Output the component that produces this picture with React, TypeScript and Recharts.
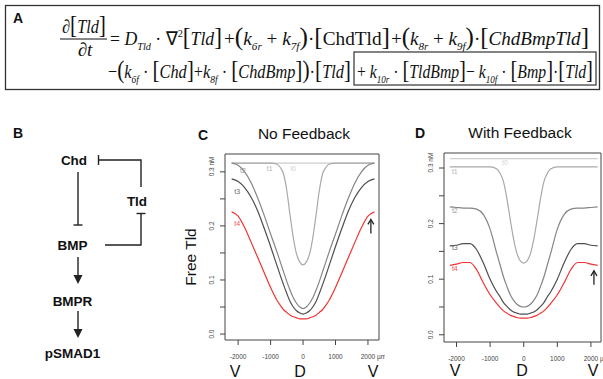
import React from 'react';
import { LineChart, Line, XAxis, YAxis, ReferenceArea, ReferenceLine, ReferenceDot } from 'recharts';

// ---------- data ----------
const xPos = [-2200, -2000, -1800, -1600, -1400, -1200, -1000, -800, -700, -600, -500, -400, -300, -200, -100, 0,
  100, 200, 300, 400, 500, 600, 700, 800, 1000, 1200, 1400, 1600, 1800, 2000, 2200];

// Panel C: No Feedback
const noFbT0 = [0.316, 0.316, 0.316, 0.316, 0.316, 0.316, 0.316, 0.316, 0.316, 0.316, 0.316, 0.316, 0.316, 0.316, 0.316, 0.316,
  0.316, 0.316, 0.316, 0.316, 0.316, 0.316, 0.316, 0.316, 0.316, 0.316, 0.316, 0.316, 0.316, 0.316, 0.316];
const noFbT1 = [0.316, 0.316, 0.316, 0.316, 0.316, 0.316, 0.316, 0.314, 0.308, 0.296, 0.265, 0.220, 0.178, 0.148, 0.133, 0.128,
  0.133, 0.148, 0.178, 0.220, 0.265, 0.296, 0.308, 0.314, 0.316, 0.316, 0.316, 0.316, 0.316, 0.316, 0.316];
const noFbT2 = [0.316, 0.312, 0.300, 0.280, 0.252, 0.220, 0.185, 0.151, 0.133, 0.115, 0.097, 0.081, 0.067, 0.057, 0.050, 0.047,
  0.050, 0.057, 0.067, 0.081, 0.097, 0.115, 0.133, 0.151, 0.185, 0.220, 0.252, 0.280, 0.300, 0.312, 0.316];
const noFbT3 = [0.287, 0.282, 0.271, 0.253, 0.228, 0.196, 0.162, 0.126, 0.108, 0.091, 0.075, 0.060, 0.050, 0.043, 0.039, 0.037,
  0.039, 0.043, 0.050, 0.060, 0.075, 0.091, 0.108, 0.126, 0.162, 0.196, 0.228, 0.253, 0.271, 0.282, 0.287];
const noFbT4 = [0.226, 0.218, 0.197, 0.170, 0.142, 0.114, 0.086, 0.062, 0.053, 0.045, 0.040, 0.035, 0.032, 0.030, 0.028, 0.028,
  0.028, 0.030, 0.032, 0.035, 0.040, 0.045, 0.053, 0.062, 0.086, 0.114, 0.142, 0.170, 0.197, 0.218, 0.226];

// Panel D: With Feedback
const fbT0 = [0.317, 0.317, 0.317, 0.317, 0.317, 0.317, 0.317, 0.317, 0.317, 0.317, 0.317, 0.317, 0.317, 0.317, 0.317, 0.317,
  0.317, 0.317, 0.317, 0.317, 0.317, 0.317, 0.317, 0.317, 0.317, 0.317, 0.317, 0.317, 0.317, 0.317, 0.317];
const fbT1 = [0.302, 0.302, 0.302, 0.302, 0.302, 0.302, 0.302, 0.298, 0.290, 0.275, 0.245, 0.207, 0.172, 0.146, 0.133, 0.129,
  0.133, 0.146, 0.172, 0.207, 0.245, 0.275, 0.290, 0.298, 0.302, 0.302, 0.302, 0.302, 0.302, 0.302, 0.302];
const fbT2 = [0.230, 0.229, 0.228, 0.228, 0.226, 0.216, 0.190, 0.146, 0.125, 0.104, 0.087, 0.072, 0.062, 0.055, 0.051, 0.050,
  0.051, 0.055, 0.062, 0.072, 0.087, 0.104, 0.125, 0.146, 0.190, 0.216, 0.226, 0.228, 0.228, 0.229, 0.230];
const fbT3 = [0.160, 0.161, 0.164, 0.164, 0.153, 0.129, 0.100, 0.077, 0.068, 0.058, 0.051, 0.045, 0.041, 0.039, 0.037, 0.037,
  0.037, 0.039, 0.041, 0.045, 0.051, 0.058, 0.068, 0.077, 0.100, 0.129, 0.153, 0.164, 0.164, 0.161, 0.160];
const fbT4 = [0.125, 0.127, 0.130, 0.130, 0.117, 0.093, 0.072, 0.056, 0.049, 0.043, 0.039, 0.035, 0.033, 0.031, 0.030, 0.030,
  0.030, 0.031, 0.033, 0.035, 0.039, 0.043, 0.049, 0.056, 0.072, 0.093, 0.117, 0.130, 0.130, 0.127, 0.125];

const xTicks = [-2000, -1000, 0, 1000, 2000];
const yTicks = [0, 0.05, 0.1, 0.15, 0.2, 0.25, 0.3];
const seriesNames = ['t0', 't1', 't2', 't3', 't4'];

// label anchor positions [x, y] for series labels
const noFbLabelPos = [[-300, 0.307], [-1030, 0.306], [-1850, 0.302], [-2030, 0.263], [-2030, 0.204]];
const fbLabelPos = [[-560, 0.310], [-2050, 0.293], [-2050, 0.223], [-2050, 0.157], [-2050, 0.120]];
const noFbArrow = [{ x: 2090, y: 0.186 }, { x: 2090, y: 0.212 }];
const fbArrow = [{ x: 2090, y: 0.090 }, { x: 2090, y: 0.115 }];

const buildRows = (series: number[][]) =>
  xPos.map((x, i) => {
    const row: any = { x };
    seriesNames.forEach((n, k) => { row[n] = series[k][i]; });
    return row;
  });
const dataC = buildRows([noFbT0, noFbT1, noFbT2, noFbT3, noFbT4]);
const dataD = buildRows([fbT0, fbT1, fbT2, fbT3, fbT4]);

const lineColors = ['#cdcdcd', '#a9a9a9', '#858585', '#4e4e4e', '#f03434'];
const labelColors = ['#d4d4d4', '#b3b3b3', '#9a9a9a', '#6a6a6a', '#f25050'];

const SANS = '"Liberation Sans", Arial, sans-serif';
const SERIF = '"Liberation Serif", "Times New Roman", serif';

// ---------- ticks ----------
const XTick = (props: any) => {
  const { x, y, payload } = props;
  const v = payload.value;
  if (v === 2000) {
    return (
      <text x={x - 7.2} y={y + 14} fontSize={6.5} fill="#444" fontFamily={SANS} textAnchor="start">2000 µm</text>
    );
  }
  return (
    <text x={x} y={y + 14} fontSize={6.5} fill="#444" fontFamily={SANS} textAnchor="middle">{String(v)}</text>
  );
};

const YTick = (props: any) => {
  const { x, y, payload } = props;
  const v = payload.value;
  if (Math.abs(v * 10 - Math.round(v * 10)) > 1e-6) return <g />;
  const cx = x - 8;
  const isTop = Math.abs(v - 0.3) < 1e-6;
  return (
    <text
      transform={`rotate(-90, ${cx}, ${y})`}
      x={isTop ? cx - 4.5 : cx}
      y={y}
      dy="0.35em"
      fontSize={6.5}
      fill="#444"
      fontFamily={SANS}
      textAnchor={isTop ? 'start' : 'middle'}
    >
      {isTop ? '0.3 nM' : v.toFixed(1)}
    </text>
  );
};

const ArrowShape = (p: any) => {
  const { x1, y1, x2, y2 } = p;
  const tipY = Math.min(y1, y2);
  const baseY = Math.max(y1, y2);
  return (
    <g>
      <line x1={x1} y1={baseY} x2={x2} y2={tipY} stroke="#222" strokeWidth={1.3} />
      <polyline points={`${x2 - 3},${tipY + 5} ${x2},${tipY} ${x2 + 3},${tipY + 5}`} fill="none" stroke="#222" strokeWidth={1.3} />
    </g>
  );
};

const makeLabel = (text: string, color: string) => (p: any) => (
  <text x={p.cx} y={p.cy} dy="0.35em" textAnchor="middle" fontSize={7} fill={color} fontFamily={SANS}>{text}</text>
);

type PanelProps = {
  data: any[];
  width: number;
  height: number;
  margin: any;
  yWidth: number;
  xHeight: number;
  xDomain: [number, number];
  yDomain: [number, number];
  labelPos: number[][];
  arrow: { x: number; y: number }[];
};

const Panel = ({ data, width, height, margin, yWidth, xHeight, xDomain, yDomain, labelPos, arrow }: PanelProps) => (
  <LineChart width={width} height={height} data={data} margin={margin}>
    <XAxis
      dataKey="x"
      type="number"
      domain={xDomain}
      ticks={xTicks}
      interval={0}
      allowDataOverflow
      height={xHeight}
      axisLine={false}
      tickSize={5}
      tickMargin={0}
      stroke="#444"
      tickLine={{ stroke: '#444' }}
      tick={<XTick />}
    />
    <YAxis
      type="number"
      domain={yDomain}
      ticks={yTicks}
      interval={0}
      allowDataOverflow
      width={yWidth}
      axisLine={false}
      tickSize={5}
      tickMargin={0}
      stroke="#444"
      tickLine={{ stroke: '#444' }}
      tick={<YTick />}
    />
    <ReferenceArea
      x1={xDomain[0]}
      x2={xDomain[1]}
      y1={yDomain[0]}
      y2={yDomain[1]}
      fill="none"
      fillOpacity={0}
      stroke="#444"
      strokeWidth={1}
      ifOverflow="visible"
    />
    {seriesNames.map((n, k) => (
      <Line
        key={n}
        dataKey={n}
        type="monotone"
        stroke={lineColors[k]}
        strokeWidth={1.2}
        dot={false}
        activeDot={false}
        isAnimationActive={false}
      />
    ))}
    {seriesNames.map((n, k) => (
      <ReferenceDot
        key={'lab' + n}
        x={labelPos[k][0]}
        y={labelPos[k][1]}
        r={0}
        ifOverflow="visible"
        shape={makeLabel(n, labelColors[k])}
      />
    ))}
    <ReferenceLine segment={arrow} ifOverflow="visible" shape={ArrowShape} />
  </LineChart>
);

// ---------- equation ----------
type Part = [string, string];
const renderParts = (parts: Part[]) => {
  let cur = 0;
  return parts.map(([t, s], i) => {
    let target = 0;
    let fontSize = 19;
    let fontStyle = 'normal';
    if (s === 'i') fontStyle = 'italic';
    if (s === 's') { target = 5; fontSize = 11; fontStyle = 'italic'; }
    if (s === 'sup') { target = -8; fontSize = 11; }
    if (s === 'b') { fontSize = 25; }
    const dy = target - cur;
    cur = target;
    return (
      <tspan key={i} dy={dy} fontSize={fontSize} fontStyle={fontStyle}>{t}</tspan>
    );
  });
};

const eqNum: Part[] = [['∂', 'r'], ['[', 'b'], ['Tld', 'i'], [']', 'b']];
const eqL1a: Part[] = [['= ', 'r'], ['D', 'i'], ['Tld', 's'], [' · ∇', 'r'], ['2', 'sup'], ['[', 'b'], ['Tld', 'i'], [']', 'b']];
const eqL1b: Part[] = [['+', 'r'], ['(', 'b'], ['k', 'i'], ['6r', 's'], [' + ', 'r'], ['k', 'i'], ['7f', 's'], [')', 'b'], ['·', 'r'], ['[', 'b'], ['ChdTld', 'r'], [']', 'b']];
const eqL1c: Part[] = [['+', 'r'], ['(', 'b'], ['k', 'i'], ['8r', 's'], [' + ', 'r'], ['k', 'i'], ['9f', 's'], [')', 'b'], ['·', 'r'], ['[', 'b'], ['ChdBmpTld', 'i'], [']', 'b']];
const eqL2a: Part[] = [['−', 'r'], ['(', 'b'], ['k', 'i'], ['6f', 's'], [' · ', 'r'], ['[', 'b'], ['Chd', 'i'], [']', 'b'], ['+', 'r'], ['k', 'i'], ['8f', 's'], [' · ', 'r'], ['[', 'b'], ['ChdBmp', 'i'], [']', 'b'], [')', 'b'], ['·', 'r'], ['[', 'b'], ['Tld', 'i'], [']', 'b']];
const eqL2b: Part[] = [['+', 'r'], [' k', 'i'], ['10r', 's'], [' · ', 'r'], ['[', 'b'], ['TldBmp', 'i'], [']', 'b'], ['−', 'r'], [' k', 'i'], ['10f', 's'], [' · ', 'r'], ['[', 'b'], ['Bmp', 'i'], [']', 'b'], ['·', 'r'], ['[', 'b'], ['Tld', 'i'], [']', 'b']];

const EqText = ({ parts, x, y, len }: { parts: Part[]; x: number; y: number; len: number }) => (
  <text x={x} y={y} textLength={len} lengthAdjust="spacingAndGlyphs" fontFamily={SERIF} fill="#111" style={{ whiteSpace: 'pre' }}>
    {renderParts(parts)}
  </text>
);

const Overlay = () => (
  <svg width={603} height={379} style={{ position: 'absolute', left: 0, top: 0, pointerEvents: 'none' }}>
    {/* Panel A */}
    <rect x={5.5} y={5.5} width={594} height={84} fill="none" stroke="#333" strokeWidth={1.3} />
    <text x={13} y={23} fontSize={14} fontWeight="bold" fontFamily={SANS} fill="#111">A</text>
    <EqText parts={eqNum} x={62} y={33} len={44} />
    <line x1={60} y1={39} x2={107} y2={39} stroke="#111" strokeWidth={1} />
    <text x={85} y={56} textAnchor="middle" fontFamily={SERIF} fill="#111" fontSize={19} fontStyle="italic">∂t</text>
    <EqText parts={eqL1a} x={110} y={45} len={112} />
    <EqText parts={eqL1b} x={224} y={45} len={166} />
    <EqText parts={eqL1c} x={391} y={45} len={198} />
    <EqText parts={eqL2a} x={108} y={78} len={243} />
    <EqText parts={eqL2b} x={357} y={78} len={236} />
    <rect x={354} y={52} width={242} height={33} fill="none" stroke="#333" strokeWidth={1.2} />

    {/* Panel B */}
    <g fontFamily={SANS} fontWeight="bold" fill="#111">
      <text x={13} y={138} fontSize={14}>B</text>
      <text x={74} y={165} fontSize={13.5} textAnchor="middle">Chd</text>
      <text x={72.5} y={250} fontSize={13.5} textAnchor="middle">BMP</text>
      <text x={72.5} y={306} fontSize={13.5} textAnchor="middle">BMPR</text>
      <text x={72.5} y={358} fontSize={13.5} textAnchor="middle">pSMAD1</text>
      <text x={137} y={206} fontSize={13.5} textAnchor="middle">Tld</text>
    </g>
    <g stroke="#222" strokeWidth={1.4} fill="none">
      <line x1={78} y1={172} x2={78} y2={225} />
      <line x1={73.5} y1={225} x2={82.5} y2={225} />
      <polyline points="141,187 141,160 98.5,160" />
      <line x1={98.5} y1={155} x2={98.5} y2={165} />
      <polyline points="105,245 141,245 141,213.5" />
      <line x1={136.5} y1={213.5} x2={145.5} y2={213.5} />
      <line x1={78} y1={257} x2={78} y2={276} />
      <line x1={78} y1={311} x2={78} y2={330} />
    </g>
    <polygon points="73.5,275 82.5,275 78,284" fill="#222" />
    <polygon points="73.5,329 82.5,329 78,338" fill="#222" />

    {/* Panel C/D headers */}
    <g fontFamily={SANS} fill="#111">
      <text x={198} y={140} fontSize={14} fontWeight="bold">C</text>
      <text x={304} y={139} fontSize={15.5} textAnchor="middle">No Feedback</text>
      <text x={415} y={138} fontSize={14} fontWeight="bold">D</text>
      <text x={520} y={138} fontSize={15.5} textAnchor="middle">With Feedback</text>
      <text transform="rotate(-90, 191, 257)" x={191} y={257} dy="0.35em" fontSize={15.5} textAnchor="middle">Free Tld</text>
      <text x={235} y={377} fontSize={16} textAnchor="middle">V</text>
      <text x={300} y={377} fontSize={16} textAnchor="middle">D</text>
      <text x={373} y={377} fontSize={16} textAnchor="middle">V</text>
      <text x={455} y={376} fontSize={16} textAnchor="middle">V</text>
      <text x={522} y={376} fontSize={16} textAnchor="middle">D</text>
      <text x={593} y={376} fontSize={16} textAnchor="middle">V</text>
    </g>
  </svg>
);

export default function App() {
  return (
    <div style={{ position: 'absolute', left: 0, top: 0, width: 603, height: 379, background: '#fff', overflow: 'hidden' }}>
      <div style={{ position: 'absolute', left: 180, top: 140 }}>
        <Panel
          data={dataC}
          width={205}
          height={239}
          margin={{ top: 14, right: 6, bottom: 0, left: 0 }}
          yWidth={45}
          xHeight={39}
          xDomain={[-2405, 2340]}
          yDomain={[-0.011, 0.333]}
          labelPos={noFbLabelPos}
          arrow={noFbArrow}
        />
      </div>
      <div style={{ position: 'absolute', left: 400, top: 140 }}>
        <Panel
          data={dataD}
          width={203}
          height={239}
          margin={{ top: 13, right: 2, bottom: 0, left: 0 }}
          yWidth={44}
          xHeight={37}
          xDomain={[-2372, 2300]}
          yDomain={[-0.013, 0.327]}
          labelPos={fbLabelPos}
          arrow={fbArrow}
        />
      </div>
      <Overlay />
    </div>
  );
}
